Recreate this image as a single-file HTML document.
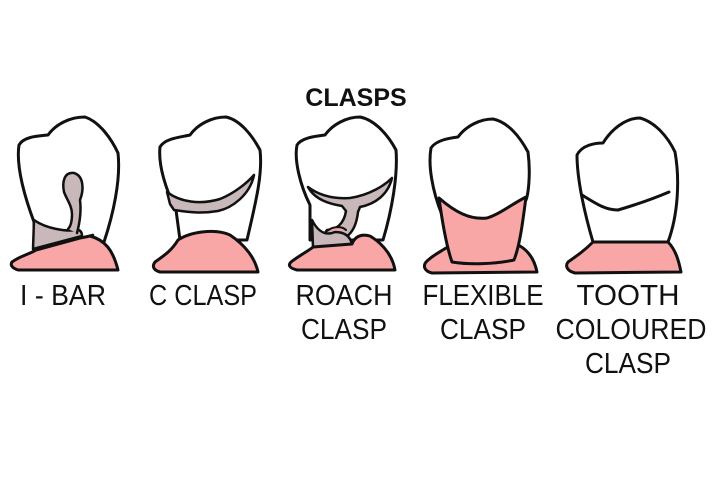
<!DOCTYPE html>
<html><head><style>html,body{margin:0;padding:0;background:#fff}svg{display:block}</style></head>
<body>
<svg width="714" height="493" viewBox="0 0 714 493" xmlns="http://www.w3.org/2000/svg" font-family="Liberation Sans, sans-serif">
<rect width="714" height="493" fill="#fff"/>
<text x="356" y="106" font-size="25" font-weight="bold" text-anchor="middle" fill="#111">CLASPS</text>
<g stroke="#111" stroke-width="3" stroke-linejoin="round" stroke-linecap="round">
<!-- Tooth 1 I-BAR -->
<path d="M34,222 C24,195 16,165 19,145 C24,136 40,136 48,135 C56,124 70,117 85,117 C100,122 112,140 118,153 C121,180 113,215 104,242 L34,250 Z" fill="#fff"/>
<path d="M34,220 L33,249 L82,236 C82,232 80,230 78,230 C65,232 45,228 34,220 Z" fill="#c8b8b9" stroke-width="2.5"/>
<path d="M77,233 C81,218 81,208 80,200 C84,190 84,176 74,173 C64,172 62,182 64,192 C67,200 72,206 72,214 C72,220 71,226 68,229" fill="#c8b8b9" stroke-width="2.5"/>
<path d="M12,262 C20,256 30,254 36,250 L80,238 C92,236 96,234 90,236 C105,240 113,250 118,270 L18,270 C12,268 10,265 12,262 Z" fill="#f8a6a6"/>
<!-- Tooth 2 C CLASP -->
<path d="M176,210 C166,190 158,165 160,147 C165,138 182,137 190,135 C198,124 212,117 226,117 C240,120 252,135 260,150 C263,175 255,205 247,240 L180,240 Z" fill="#fff"/>
<path d="M167,192 C180,202 200,205 220,199 C235,193 248,182 254,175 C250,195 232,208 218,211 C200,214 188,212 174,210 L170,204 Z" fill="#c8b8b9" stroke-width="2.5"/>
<path d="M155,262 C165,255 172,250 178,240 C190,232 215,228 230,235 C245,245 255,258 258,272 L160,272 C153,270 152,266 155,262 Z" fill="#f8a6a6"/>
<!-- Tooth 3 ROACH -->
<path d="M310,205 C300,185 294,160 297,145 C302,137 318,136 325,135 C333,124 347,117 360,117 C375,120 388,135 396,150 C398,175 392,210 383,240 L310,240 Z" fill="#fff"/>
<path d="M308,187 C320,196 335,199 350,198 C370,195 385,185 392,178 C388,195 375,204 360,207 L358,212 C356,230 348,240 335,240 C326,240 322,236 327,230 C336,230 344,224 346,211 L342,206 C330,204 315,200 308,187 Z" fill="#c8b8b9" stroke-width="2.5"/>
<path d="M312,220 L313,247 L352,244 C350,236 344,232 335,232 C326,236 318,232 312,220 Z" fill="#c8b8b9" stroke-width="2.5"/>
<path d="M291,262 C300,255 310,250 313,247 L352,244 C354,238 360,233 370,236 C385,245 393,258 395,270 L297,270 C289,268 288,265 291,262 Z" fill="#f8a6a6"/>
<path d="M327,231 C333,226 342,226 346,230" fill="#f8a6a6" stroke-width="2"/>
<!-- Tooth 4 FLEXIBLE -->
<path d="M442,215 C432,190 428,165 431,148 C436,140 450,138 458,137 C466,126 480,119 493,119 C508,122 520,137 528,152 C531,175 528,195 526,200 L487,220 Z" fill="#fff"/>
<path d="M426,262 C433,255 440,252 446,248 L520,246 C530,252 535,262 537,272 L432,273 C424,271 423,266 426,262 Z" fill="#f8a6a6"/>
<path d="M439,198 C455,212 470,220 487,218 C500,214 512,204 526,197 C523,220 520,245 514,260 C495,264 470,265 452,262 C446,245 442,220 439,198 Z" fill="#f8a6a6"/>
<!-- Tooth 5 TOOTH COLOURED -->
<path d="M593,242 C585,215 577,180 577,155 C582,145 595,143 603,143 C611,130 625,118 640,118 C655,122 668,137 675,152 C680,180 678,215 668,242 Z" fill="#fff"/>
<path d="M582,195 C595,203 605,210 618,210 C635,205 655,198 669,192" fill="none"/>
<path d="M568,262 C578,255 585,250 593,242 L668,242 C676,250 679,262 681,272 L575,273 C567,271 565,266 568,262 Z" fill="#f8a6a6"/>
</g>
<g font-size="29" fill="#111" text-anchor="middle">
<text x="63" y="305" textLength="86" lengthAdjust="spacingAndGlyphs">I - BAR</text>
<text x="203" y="305" textLength="108" lengthAdjust="spacingAndGlyphs">C CLASP</text>
<text x="344" y="305" textLength="97" lengthAdjust="spacingAndGlyphs">ROACH</text>
<text x="344" y="339" textLength="86" lengthAdjust="spacingAndGlyphs">CLASP</text>
<text x="483" y="305" textLength="121" lengthAdjust="spacingAndGlyphs">FLEXIBLE</text>
<text x="483" y="339" textLength="86" lengthAdjust="spacingAndGlyphs">CLASP</text>
<text x="628" y="305" textLength="103" lengthAdjust="spacingAndGlyphs">TOOTH</text>
<text x="631" y="339" textLength="151" lengthAdjust="spacingAndGlyphs">COLOURED</text>
<text x="628" y="373" textLength="86" lengthAdjust="spacingAndGlyphs">CLASP</text>
</g>
</svg>
</body></html>
